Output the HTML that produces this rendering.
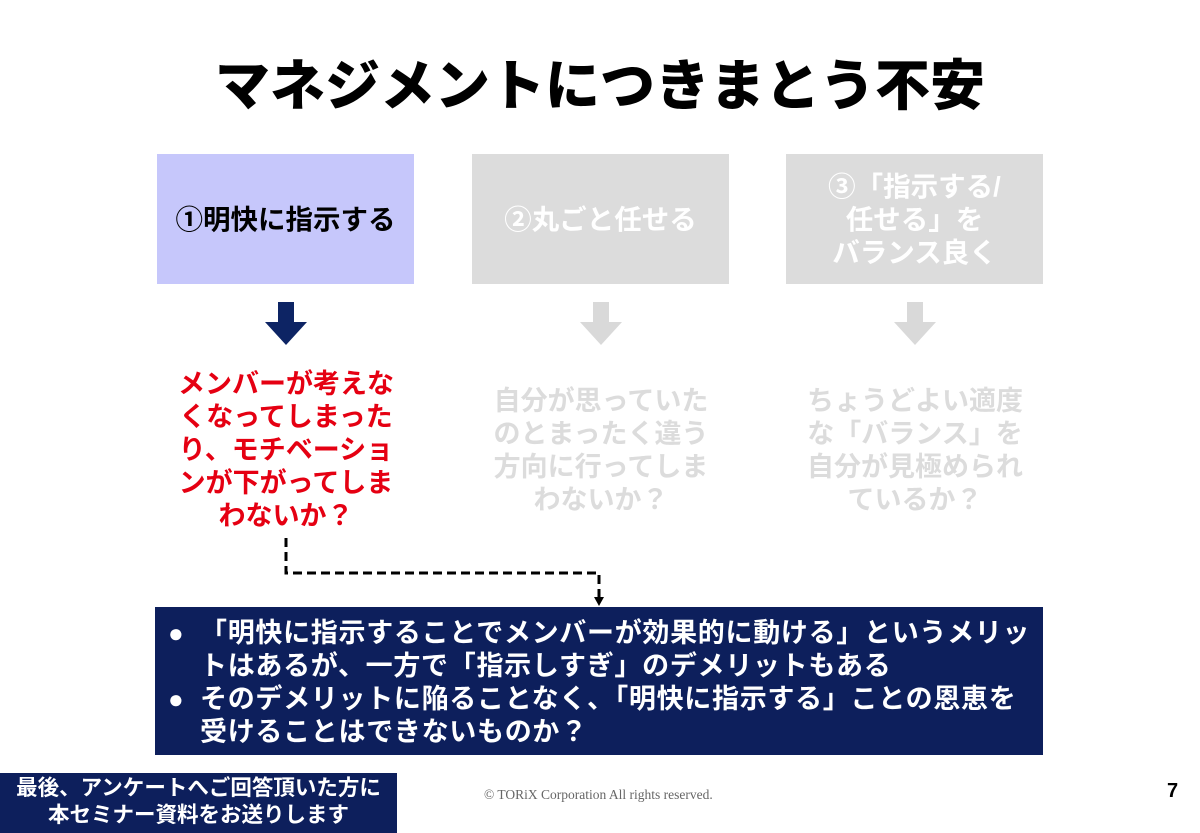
<!DOCTYPE html>
<html><head><meta charset="utf-8"><style>
body{margin:0;width:1200px;height:831px;background:#fff;position:relative;overflow:hidden;font-family:"Liberation Sans","Noto Sans CJK JP",sans-serif;font-weight:bold}
.a{position:absolute;white-space:nowrap}
.box{position:absolute;top:154px;width:257px;height:130px;display:flex;align-items:center;justify-content:center;text-align:center;font-size:27.5px;line-height:33px}
.t{position:absolute;width:300px;text-align:center;font-size:27px;line-height:33px;top:368px}
</style></head><body>
<div class="a" style="left:0;width:1200px;text-align:center;top:41px;font-size:55px;font-weight:900;color:#000">マネジメントにつきまとう不安</div>
<div class="box" style="left:157px;background:#c6c7fb;color:#000">①明快に指示する</div>
<div class="box" style="left:472px;background:#dcdcdc;color:#fff">②丸ごと任せる</div>
<div class="box" style="left:786px;background:#dcdcdc;color:#fff">③「指示する/<br>任せる」を<br>バランス良く</div>
<svg class="a" style="left:0;top:0" width="1200" height="831">
<polygon points="278,302 294,302 294,322 307,322 286,345 265,322 278,322" fill="#0d2464"/>
<polygon points="593,302 609,302 609,322 622,322 601,345 580,322 593,322" fill="#d9d9d9"/>
<polygon points="907,302 923,302 923,322 936,322 915,345 894,322 907,322" fill="#d9d9d9"/>
<polyline points="286,538 286,573 599,573 599,598" fill="none" stroke="#000" stroke-width="3" stroke-dasharray="9,5"/>
<polygon points="594,597 604,597 599,606" fill="#000"/>
</svg>
<div class="t" style="left:136px;color:#e50012">メンバーが考えな<br>くなってしまった<br>り、モチベーショ<br>ンが下がってしま<br>わないか？</div>
<div class="t" style="left:451px;color:#dcdcdc;top:385px">自分が思っていた<br>のとまったく違う<br>方向に行ってしま<br>わないか？</div>
<div class="t" style="left:765px;color:#dcdcdc;top:385px">ちょうどよい適度<br>な「バランス」を<br>自分が見極められ<br>ているか？</div>
<div class="a" style="left:155px;top:607px;width:888px;height:148px;background:#0d1f5c"></div>
<div class="a" style="left:168px;top:617px;color:#fff;font-size:26px;line-height:33px">●<br><br>●</div>
<div class="a" style="left:200px;top:617px;color:#fff;font-size:27px;letter-spacing:0.7px;line-height:33px">「明快に指示することでメンバーが効果的に動ける」というメリッ<br>トはあるが、一方で「指示しすぎ」のデメリットもある<br>そのデメリットに陥ることなく、「明快に指示する」ことの恩恵を<br>受けることはできないものか？</div>
<div class="a" style="left:0;top:773px;width:397px;height:58px;background:#0d1f5c;color:#fff;text-align:center;font-size:21.5px;line-height:27px;padding-top:2px">最後、アンケートへご回答頂いた方に<br>本セミナー資料をお送りします</div>
<div class="a" style="left:484px;top:787px;font-family:'Liberation Serif',serif;font-weight:normal;font-size:13.5px;color:#666">© TORiX Corporation All rights reserved.</div>
<div class="a" style="left:1167px;top:780px;font-size:20px;color:#000">7</div>
</body></html>
